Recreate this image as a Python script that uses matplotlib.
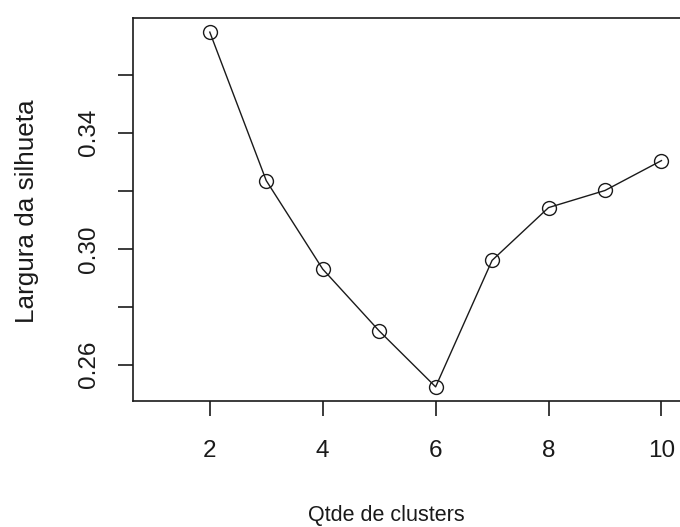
import numpy as np
from matplotlib import pyplot as plt

plt.rcParams['font.family'] = ['Liberation Sans', 'DejaVu Sans']

# numero de clusters (k=1 sem valor, como no R)
clusters = [1, 2, 3, 4, 5, 6, 7, 8, 9, 10]
silhueta = [np.nan, 0.3747, 0.3235, 0.2930, 0.2717, 0.2524, 0.2960, 0.3142, 0.3201, 0.3304]
yticks = [0.26, 0.28, 0.30, 0.32, 0.34, 0.36]
ytick_labels = ['0.26', '', '0.30', '', '0.34', '']
xticks = [2, 4, 6, 8, 10]

fig = plt.figure(figsize=(6.8, 5.27), dpi=100)
ax = fig.add_axes([0.1956, 0.239, 0.807, 0.727])

ax.plot(clusters, silhueta, color='#1a1a1a', lw=1.0, marker='o', ms=10,
        mfc='none', mec='#1a1a1a', mew=1.0)

# eixos no estilo R: 4% de folga
xr = max(clusters) - min(clusters)
ax.set_xlim(min(clusters) - 0.04 * xr, max(clusters) + 0.04 * xr)
vals = [v for v in silhueta if not np.isnan(v)]
yr = max(vals) - min(vals)
ax.set_ylim(min(vals) - 0.04 * yr, max(vals) + 0.04 * yr)

ax.set_xticks(xticks)
ax.set_yticks(yticks)
ax.set_yticklabels(ytick_labels, rotation=90, va='center')
ax.tick_params(direction='out', length=11, width=1.2, colors='#1a1a1a')
ax.tick_params(axis='x', labelsize=17.5, pad=17)
ax.tick_params(axis='y', labelsize=17.5, pad=13)

for s in ax.spines.values():
    s.set_linewidth(1.2)
    s.set_color('#1a1a1a')

fig.text(0.568, 0.022, 'Qtde de clusters', ha='center', va='center', fontsize=15.5,
         color='#1a1a1a')
fig.text(0.039, 0.600, 'Largura da silhueta', ha='center', va='center', fontsize=18.8,
         rotation=90, color='#1a1a1a')

fig.savefig('out.png', dpi=100)
